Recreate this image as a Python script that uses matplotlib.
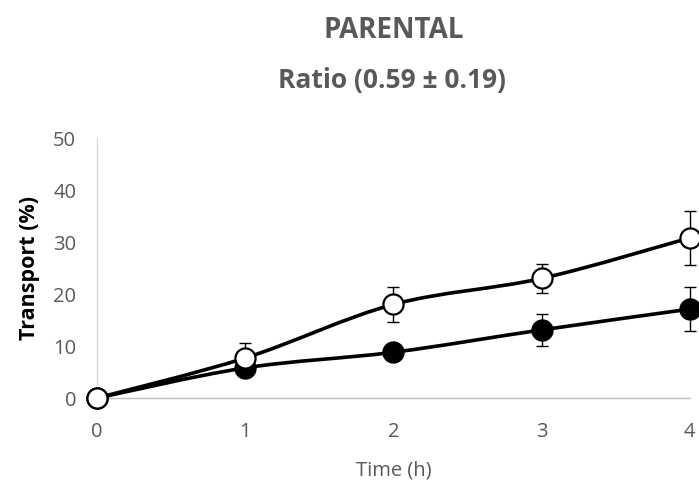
import matplotlib.pyplot as plt
from matplotlib.path import Path
from matplotlib.patches import PathPatch

plt.rcParams['font.family'] = ['Open Sans', 'DejaVu Sans']

time_h = [0, 1, 2, 3, 4]
open_mean = [0, 7.7, 18.0, 23.0, 30.8]
open_err = [0, 2.9, 3.3, 2.8, 5.2]
filled_mean = [0, 5.8, 8.8, 13.1, 17.1]
filled_err = [0, 0.8, 0.8, 3.0, 4.2]

GRAY = '#595959'


def smooth_path(x, y):
    # Catmull-Rom style bezier through the points, like a smoothed line chart
    verts = [(x[0], y[0])]
    codes = [Path.MOVETO]
    n = len(x)
    for i in range(n - 1):
        x0, y0 = (x[i - 1], y[i - 1]) if i > 0 else (x[i], y[i])
        x3, y3 = (x[i + 2], y[i + 2]) if i + 2 < n else (x[i + 1], y[i + 1])
        c1 = (x[i] + (x[i + 1] - x0) / 6, y[i] + (y[i + 1] - y0) / 6)
        c2 = (x[i + 1] - (x3 - x[i]) / 6, y[i + 1] - (y3 - y[i]) / 6)
        verts += [c1, c2, (x[i + 1], y[i + 1])]
        codes += [Path.CURVE4] * 3
    return Path(verts, codes)


fig = plt.figure(figsize=(6.99, 4.86), dpi=100)
ax = fig.add_axes([0.1388, 0.181, 0.848, 0.535])

for mean, err, face in [(filled_mean, filled_err, 'black'), (open_mean, open_err, 'white')]:
    ax.add_patch(PathPatch(smooth_path(time_h, mean), facecolor='none',
                           edgecolor='black', lw=2.6, zorder=2, clip_on=False))
    ax.errorbar(time_h, mean, yerr=err, fmt='none', ecolor='black', elinewidth=1,
                capsize=4.3, capthick=1, zorder=2, clip_on=False)
    ax.plot(time_h, mean, 'o', ms=14.5, mfc=face, mec='black', mew=1.6,
            zorder=3, clip_on=False)

ax.set_xlim(0, 4)
ax.set_ylim(0, 50)
ax.set_xticks(time_h)
ax.set_yticks([0, 10, 20, 30, 40, 50])
ax.tick_params(length=0, labelsize=14.5, labelcolor=GRAY)
ax.tick_params(axis='x', pad=17)
ax.tick_params(axis='y', pad=15)
for s in ['top', 'right']:
    ax.spines[s].set_visible(False)
ax.spines['left'].set_color('#d9d9d9')
ax.spines['bottom'].set_color('#bfbfbf')
ax.spines['left'].set_linewidth(1)
ax.spines['bottom'].set_linewidth(1)

ax.set_xlabel('Time (h)', fontsize=14.5, color=GRAY)
ax.xaxis.set_label_coords(0.5, -0.24)
ax.set_ylabel('Transport (%)', fontsize=15.5, fontweight='bold', color='black')
ax.yaxis.set_label_coords(-0.096, 0.5)

fig.text(0.563, 0.938, 'PARENTAL', ha='center', va='center', fontsize=20,
         fontweight='bold', color=GRAY)
fig.text(0.56, 0.835, 'Ratio (0.59 \u00b1 0.19)', ha='center', va='center',
         fontsize=19, fontweight='bold', color=GRAY)

fig.savefig('out.png', dpi=100)
